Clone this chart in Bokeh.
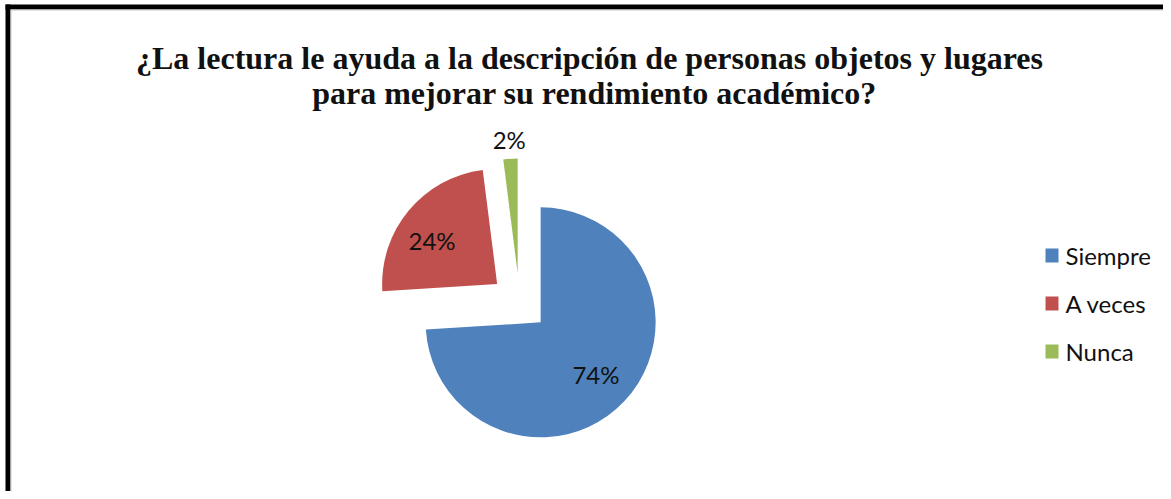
import numpy as np
from bokeh.plotting import figure
from bokeh.models import Range1d, ColumnDataSource
from bokeh.core.properties import value
from bokeh.embed import file_html
from bokeh.resources import INLINE

# ---- data ----
categories = ["Siempre", "A veces", "Nunca"]
values = [74, 24, 2]
labels = ["74%", "24%", "2%"]
colors = ["#4F81BD", "#C0504D", "#9BBB59"]
title_lines = [
    "¿La lectura le ayuda a la descripción  de personas objetos y lugares",
    "para mejorar su rendimiento académico?",
]

# ---- layout (picture pixels, y measured from top) ----
W, H = 1163, 491


def Y(py):
    return H - py


cx, cy = 519, Y(302)
R = 115
EXPLODE = 29
label_factor = [0.66, 0.68, 1.17]
label_shift_deg = [0, 6, 0]

p = figure(width=W, height=H, output_backend="svg", toolbar_location=None,
           x_range=Range1d(0, W), y_range=Range1d(0, H),
           x_axis_type=None, y_axis_type=None, min_border=0)
p.grid.visible = False
p.outline_line_color = None
p.background_fill_color = "white"

# frame (top & left thick black border)
p.quad(left=5, right=W, top=Y(4), bottom=Y(9), fill_color="black", line_color=None)
p.quad(left=10, right=W, top=Y(9), bottom=Y(10), fill_color="#C8C8C8", line_color=None)
p.quad(left=5, right=10, top=Y(4), bottom=0, fill_color="black", line_color=None)
p.quad(left=10, right=11, top=Y(9), bottom=0, fill_color="#C8C8C8", line_color=None)

# pie slices (start at 12 o'clock, clockwise, all exploded)
vals = np.array(values, dtype=float)
frac = vals / vals.sum()
cum = np.concatenate([[0], np.cumsum(frac)])
start = np.deg2rad(90 - 360 * cum[1:])
end = np.deg2rad(90 - 360 * cum[:-1])
mid = (start + end) / 2
xs = cx + EXPLODE * np.cos(mid)
ys = cy + EXPLODE * np.sin(mid)

src = ColumnDataSource(dict(x=xs, y=ys, start=start, end=end, color=colors))
p.wedge(x="x", y="y", radius=R, start_angle="start", end_angle="end",
        fill_color="color", line_color=None, source=src)

lang = mid + np.deg2rad(label_shift_deg)
lx = xs + np.array(label_factor) * R * np.cos(lang)
ly = ys + np.array(label_factor) * R * np.sin(lang)
p.text(x=lx, y=ly, text=labels, text_align="center", text_baseline="middle",
       text_font=value("Lato"), text_font_size="24px", text_color="#111111")

# title
p.text(x=[593, 594], y=[Y(57), Y(92)], text=title_lines, text_align="center",
       text_baseline="alphabetic", text_font=value("Liberation Serif"),
       text_font_style="bold", text_font_size="32px", text_color="#111111")

# legend
leg_y = [Y(255 + 48 * i) for i in range(len(categories))]
p.rect(x=[1051.5] * len(categories), y=leg_y, width=13, height=14,
       fill_color=colors, line_color=None)
p.text(x=[1065] * len(categories), y=leg_y, text=categories, text_align="left",
       text_baseline="middle", text_font=value("Lato"), text_font_size="24px",
       text_color="#111111")

open("out.html", "w").write(file_html(p, INLINE))
